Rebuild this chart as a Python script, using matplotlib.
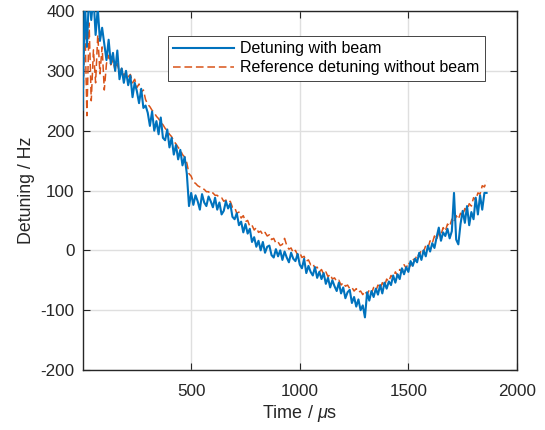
import numpy as np
import matplotlib
matplotlib.use("Agg")
import matplotlib.pyplot as plt

# time axis in microseconds (10 us steps)
time_us = np.arange(0, 1870, 10)

# detuning with beam (Hz)
detuning_beam = [
    235, 420, 340, 430, 385, 425, 360, 405, 350, 372,
    345, 318, 352, 312, 330, 300, 334, 286, 304, 280,
    300, 276, 292, 256, 280, 266, 246, 270, 238, 242,
    230, 208, 232, 200, 216, 194, 222, 188, 184, 202,
    172, 188, 160, 176, 152, 168, 142, 156, 128, 74,
    96, 76, 92, 82, 68, 94, 80, 74, 90, 82,
    72, 88, 68, 80, 60, 66, 82, 70, 78, 56,
    52, 62, 42, 48, 30, 44, 28, 36, 14, 22,
    6, 16, 0, 14, -4, 6, 8, -8, -12, 2,
    -10, 0, -16, -2, -12, -20, -4, -14, -18, -6,
    -24, -30, -14, -38, -26, -36, -42, -28, -46, -36,
    -48, -38, -56, -46, -62, -50, -60, -68, -54, -72,
    -62, -80, -70, -66, -88, -78, -94, -82, -100, -92,
    -112, -70, -84, -68, -78, -64, -74, -58, -72, -54,
    -64, -52, -58, -42, -54, -40, -48, -30, -40, -28,
    -36, -18, -26, -14, -20, -4, -16, 0, -10, 8,
    -2, 12, 4, 22, 38, 16, 30, 24, 36, 20,
    32, 96, 18, 10, 44, 66, 46, 74, 42, 64,
    52, 88, 60, 92, 68, 96, 96,
]

# reference detuning without beam (Hz)
detuning_ref = [
    195, 395, 225, 380, 250, 335, 280, 360, 295, 340,
    268, 312, 326, 310, 318, 300, 312, 296, 304, 292,
    298, 290, 294, 280, 286, 272, 278, 264, 268, 252,
    244, 240, 234, 230, 224, 220, 214, 210, 204, 200,
    194, 190, 182, 178, 172, 168, 160, 156, 146, 128,
    124, 114, 112, 108, 106, 102, 102, 98, 98, 94,
    96, 92, 92, 88, 88, 82, 84, 80, 82, 72,
    72, 62, 64, 54, 58, 48, 50, 40, 42, 34,
    38, 30, 32, 26, 30, 24, 26, 18, 20, 12,
    14, 8, 10, 20, 8, 2, 4, -4, 0, -8,
    -4, -12, -10, -18, -16, -24, -22, -30, -28, -36,
    -32, -40, -36, -44, -40, -48, -46, -52, -50, -58,
    -54, -60, -58, -64, -62, -68, -64, -70, -68, -74,
    -68, -74, -66, -72, -62, -68, -58, -64, -54, -60,
    -48, -52, -42, -46, -36, -42, -32, -36, -24, -30,
    -20, -26, -14, -18, -6, -10, 2, -2, 8, 4,
    16, 12, 24, 18, 30, 26, 38, 32, 44, 40,
    52, 46, 58, 52, 62, 58, 70, 66, 78, 74,
    88, 84, 96, 94, 108, 106, 116,
]

x_ticks = [500, 1000, 1500, 2000]
y_ticks = [-200, -100, 0, 100, 200, 300, 400]

plt.rcParams['font.family'] = ['Liberation Sans', 'DejaVu Sans']
plt.rcParams['axes.unicode_minus'] = False
plt.rcParams['mathtext.fontset'] = 'custom'
plt.rcParams['mathtext.it'] = 'Liberation Sans:italic'
plt.rcParams['mathtext.rm'] = 'Liberation Sans'

fig = plt.figure(figsize=(5.45, 4.3), dpi=100)
ax = fig.add_axes([0.1523, 0.1395, 0.7963, 0.8349])

ax.plot(time_us, detuning_beam, color='#0072BD', linewidth=1.5,
        label='Detuning with beam', zorder=3)
ax.plot(time_us, detuning_ref, color='#D95319', linewidth=1.1,
        linestyle=(0, (5, 2.5)), label='Reference detuning without beam', zorder=2)

ax.set_xlim(2, 2000)
ax.set_ylim(-200, 400)
ax.set_xticks(x_ticks)
ax.set_yticks(y_ticks)
ax.grid(True, color='#dfdfdf', linewidth=1.0)
ax.set_axisbelow(True)

ax.tick_params(direction='in', top=True, right=True, length=5,
               width=0.8, colors='#262626', labelsize=12.3)
ax.tick_params(axis='x', pad=10)
ax.tick_params(axis='y', pad=6)
for sp in ax.spines.values():
    sp.set_color('#262626')
    sp.set_linewidth(1.0)

ax.set_xlabel('Time / $\\mu$s', fontsize=13, color='#262626', labelpad=3)
ax.set_ylabel('Detuning / Hz', fontsize=12.8, color='#262626', labelpad=4)

leg = ax.legend(loc='upper right', bbox_to_anchor=(0.945, 0.953), fontsize=11.5,
                fancybox=False, framealpha=1, edgecolor='#262626',
                handlelength=3.8, borderpad=0.35, labelspacing=0.25,
                handletextpad=0.4)
leg.get_frame().set_linewidth(0.6)

plt.savefig('out.png', dpi=100)
plt.close()
